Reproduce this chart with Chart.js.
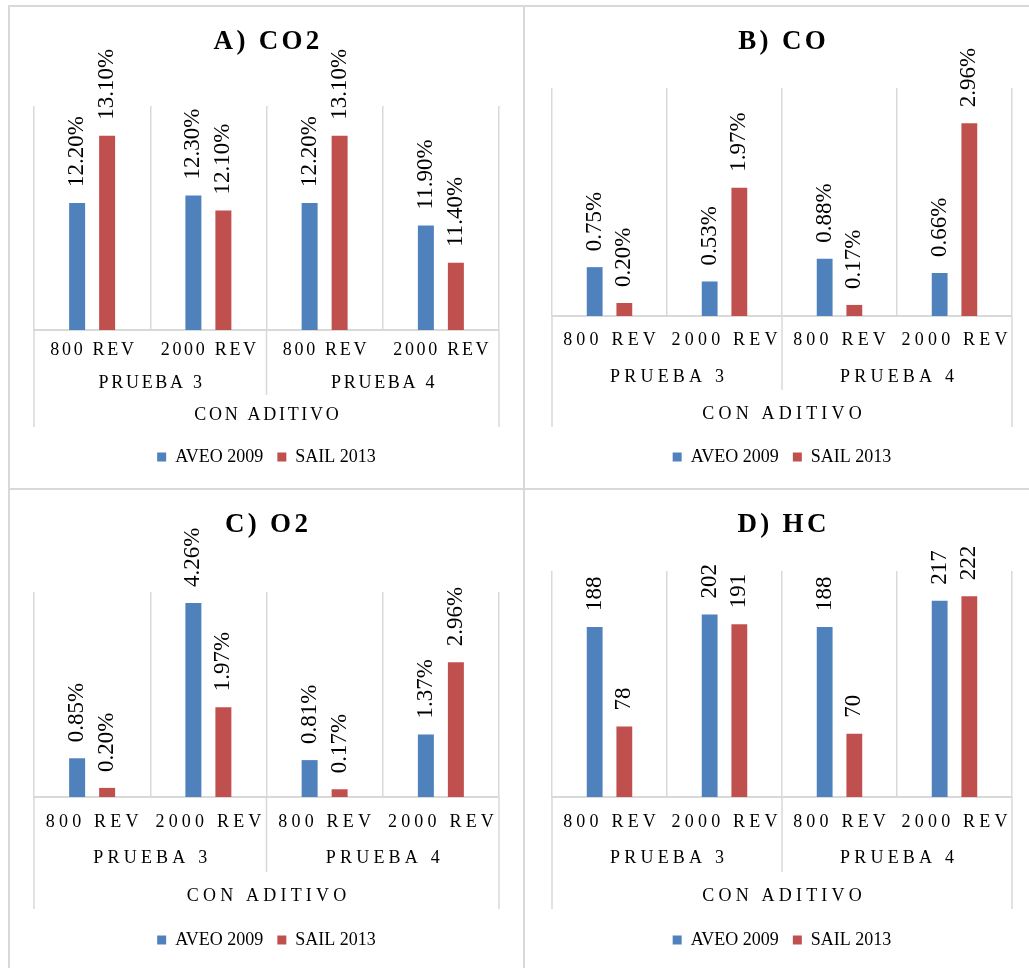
<!DOCTYPE html>
<html>
<head>
<meta charset="utf-8">
<script src="https://cdn.jsdelivr.net/npm/chart.js@4.4.1/dist/chart.umd.min.js"></script>
<style>
  body { margin: 0; background: #fff; }
  #page { position: relative; width: 1029px; height: 968px; overflow: hidden; }
  .ln { position: absolute; background: #d9d9d9; }
  canvas { position: absolute; }
</style>
</head>
<body>
<div id="page">
  <div class="ln" style="left:8px;top:5px;width:1021px;height:2px"></div>
  <div class="ln" style="left:8px;top:5px;width:2px;height:963px"></div>
  <div class="ln" style="left:523px;top:5px;width:2px;height:963px"></div>
  <div class="ln" style="left:8px;top:488px;width:1021px;height:2px"></div>
  <canvas id="cA" width="513" height="481" style="left:10px;top:7px"></canvas>
  <canvas id="cB" width="504" height="481" style="left:525px;top:7px"></canvas>
  <canvas id="cC" width="513" height="478" style="left:10px;top:490px"></canvas>
  <canvas id="cD" width="504" height="478" style="left:525px;top:490px"></canvas>
</div>
<script>
// data
const categories = ['800 REV', '2000 REV', '800 REV', '2000 REV'];
const groups = ['PRUEBA 3', 'PRUEBA 4'];
const topGroup = 'CON ADITIVO';
const seriesNames = ['AVEO 2009', 'SAIL 2013'];

const co2Aveo = [12.2, 12.3, 12.2, 11.9];
const co2Sail = [13.1, 12.1, 13.1, 11.4];
const coAveo = [0.75, 0.53, 0.88, 0.66];
const coSail = [0.20, 1.97, 0.17, 2.96];
const o2Aveo = [0.85, 4.26, 0.81, 1.37];
const o2Sail = [0.20, 1.97, 0.17, 2.96];
const hcAveo = [188, 202, 188, 217];
const hcSail = [78, 191, 70, 222];

const FONT = "'Liberation Serif','Times New Roman',serif";
const BLUE = '#4F81BD', RED = '#C0504D', GRID = '#d9d9d9';
const LEG_PAD = 14, LEG_FONT = 18;

// panel layout (positions only)
const panels = [
  { id: 'cA', title: 'A) CO2', aveo: co2Aveo, sail: co2Sail, min: 10.5, max: 13.5, pct: true,
    left: 24, right: 24, top: 99, base: 319, legY: 446, rows: [20, 53, 85], midEnd: 65, outEnd: 97, ls: 2.7 },
  { id: 'cB', title: 'B) CO', aveo: coAveo, sail: coSail, min: 0, max: 3.5, pct: true,
    left: 27, right: 17, top: 81, base: 305, legY: 446, rows: [24, 61, 98], midEnd: 74, outEnd: 111, ls: 4.2 },
  { id: 'cC', title: 'C) O2', aveo: o2Aveo, sail: o2Sail, min: 0, max: 4.5, pct: true,
    left: 24, right: 24, top: 102, base: 303, legY: 446, rows: [25, 61, 99], midEnd: 75, outEnd: 112, ls: 4.2 },
  { id: 'cD', title: 'D) HC', aveo: hcAveo, sail: hcSail, min: 0, max: 250, pct: false,
    left: 27, right: 17, top: 81, base: 303, legY: 446, rows: [25, 61, 99], midEnd: 75, outEnd: 112, ls: 4.2 }
];

const excelAxis = {
  id: 'excelAxis',
  afterDatasetsDraw(chart, args, o) {
    const ctx = chart.ctx;
    ctx.save();
    ctx.fillStyle = '#000';
    ctx.font = '23px ' + FONT;
    ctx.textBaseline = 'middle';
    ctx.textAlign = 'left';
    chart.data.datasets.forEach((ds, di) => {
      chart.getDatasetMeta(di).data.forEach((bar, i) => {
        const v = ds.data[i];
        const txt = o.pct ? v.toFixed(2) + '%' : String(v);
        ctx.save();
        ctx.translate(bar.x, bar.y - 16);
        ctx.rotate(-Math.PI / 2);
        ctx.fillText(txt, 0, 0);
        ctx.restore();
      });
    });
    ctx.restore();
  },
  afterDraw(chart, args, o) {
    const ctx = chart.ctx, x = chart.scales.x, a = chart.chartArea, b = a.bottom;
    const px = i => x.getPixelForValue(i);
    const mid = (px(1) + px(2)) / 2;
    ctx.save();
    ctx.strokeStyle = GRID;
    ctx.lineWidth = 1.5;
    [[a.left, o.outEnd], [a.right, o.outEnd], [mid, o.midEnd]].forEach(([lx, len]) => {
      ctx.beginPath();
      ctx.moveTo(lx, b);
      ctx.lineTo(lx, b + len);
      ctx.stroke();
    });
    ctx.fillStyle = '#000';
    ctx.textAlign = 'center';
    ctx.textBaseline = 'middle';
    ctx.font = '18px ' + FONT;
    ctx.letterSpacing = o.ls + 'px';
    categories.forEach((c, i) => ctx.fillText(c, px(i) + o.ls / 2, b + o.rows[0]));
    groups.forEach((g, i) => ctx.fillText(g, (px(2 * i) + px(2 * i + 1)) / 2 + o.ls / 2, b + o.rows[1]));
    ctx.fillText(topGroup, (a.left + a.right) / 2 + o.ls / 2, b + o.rows[2]);
    ctx.font = 'bold 27px ' + FONT;
    ctx.letterSpacing = '3.3px';
    ctx.fillText(o.title, (a.left + a.right) / 2 + 1.6, 35);
    ctx.restore();
  }
};

panels.forEach(p => {
  const canvas = document.getElementById(p.id);
  const H = canvas.height;
  const legH = LEG_FONT + 2 * LEG_PAD;
  const padBottom = H - p.legY - LEG_PAD - LEG_FONT / 2;
  const axisH = H - padBottom - legH - p.base;
  new Chart(canvas, {
    type: 'bar',
    data: {
      labels: categories,
      datasets: [
        { label: seriesNames[0], data: p.aveo, backgroundColor: BLUE, borderWidth: 0,
          categoryPercentage: 0.516, barPercentage: 0.533 },
        { label: seriesNames[1], data: p.sail, backgroundColor: RED, borderWidth: 0,
          categoryPercentage: 0.516, barPercentage: 0.533 }
      ]
    },
    options: {
      responsive: false,
      animation: false,
      layout: { padding: { left: p.left, right: p.right, top: p.top, bottom: padBottom } },
      scales: {
        x: {
          offset: true,
          grid: { offset: true, color: GRID, lineWidth: 1.5, drawTicks: false },
          border: { color: GRID, width: 2 },
          ticks: { display: false },
          afterFit: s => { s.height = axisH; }
        },
        y: { display: false, min: p.min, max: p.max }
      },
      plugins: {
        tooltip: { enabled: false },
        legend: {
          position: 'bottom',
          labels: { boxWidth: 9, boxHeight: 9, padding: LEG_PAD, color: '#000',
                    font: { family: FONT, size: LEG_FONT } }
        },
        excelAxis: { title: p.title, pct: p.pct, rows: p.rows, midEnd: p.midEnd,
                     outEnd: p.outEnd, ls: p.ls }
      }
    },
    plugins: [excelAxis]
  });
});
</script>
</body>
</html>
